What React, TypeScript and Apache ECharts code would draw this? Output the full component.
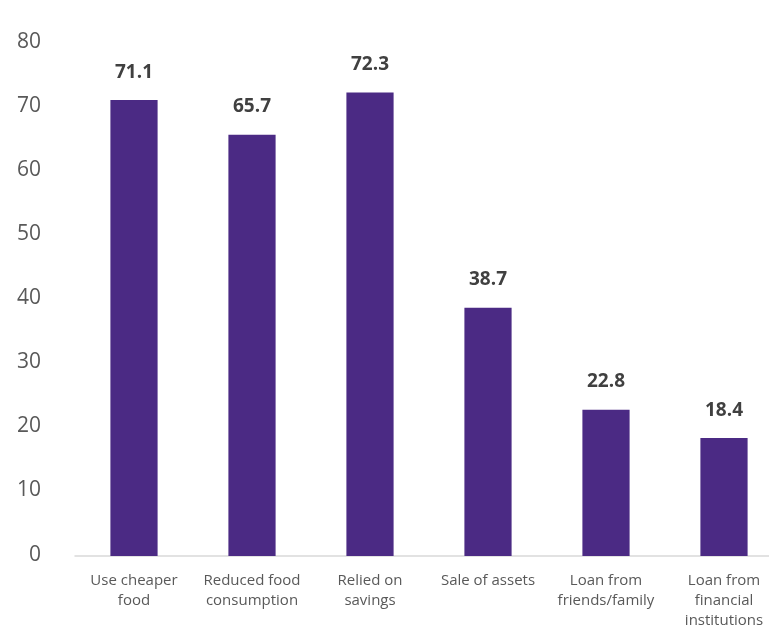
import React, { useEffect, useRef } from "react";
import * as echarts from "echarts";

const categories = [
  "Use cheaper\nfood",
  "Reduced food\nconsumption",
  "Relied on\nsavings",
  "Sale of assets",
  "Loan from\nfriends/family",
  "Loan from\nfinancial\ninstitutions",
];
const values = [71.1, 65.7, 72.3, 38.7, 22.8, 18.4];
const yTicks = { min: 0, max: 80, interval: 10 };

export default function App() {
  const ref = useRef<HTMLDivElement>(null);
  useEffect(() => {
    if (!ref.current) return;
    const chart = echarts.init(ref.current, null, { renderer: "svg" });
    chart.setOption({
      animation: false,
      textStyle: { fontFamily: "Open Sans" },
      grid: { left: 75, right: 0, top: 43, bottom: 71, containLabel: false },
      xAxis: {
        type: "category",
        data: categories,
        axisLine: { show: true, lineStyle: { color: "#d9d9d9", width: 1.5 } },
        axisTick: { show: false },
        axisLabel: {
          interval: 0,
          color: "#595959",
          fontSize: 15,
          lineHeight: 20,
          margin: 13,
          fontFamily: "Open Sans",
        },
      },
      yAxis: {
        type: "value",
        min: yTicks.min,
        max: yTicks.max,
        interval: yTicks.interval,
        splitLine: { show: false },
        axisLine: { show: false },
        axisTick: { show: false },
        axisLabel: {
          color: "#595959",
          fontSize: 21,
          margin: 34,
          verticalAlign: "bottom",
          lineHeight: 7,
          fontFamily: "Open Sans",
        },
      },
      series: [
        {
          type: "bar",
          data: values,
          barWidth: "40%",
          itemStyle: { color: "#4b2a84" },
          label: {
            show: true,
            position: "top",
            distance: 20,
            color: "#404040",
            fontWeight: "bold",
            fontSize: 19,
            fontFamily: "Open Sans",
            formatter: (p: any) => p.value.toFixed(1),
          },
        },
      ],
    });
    return () => chart.dispose();
  }, []);
  return (
    <div
      style={{
        position: "fixed",
        left: 0,
        top: 0,
        width: 769,
        height: 629,
        overflow: "hidden",
      }}
    >
      <div ref={ref} style={{ width: 783, height: 629 }} />
    </div>
  );
}
